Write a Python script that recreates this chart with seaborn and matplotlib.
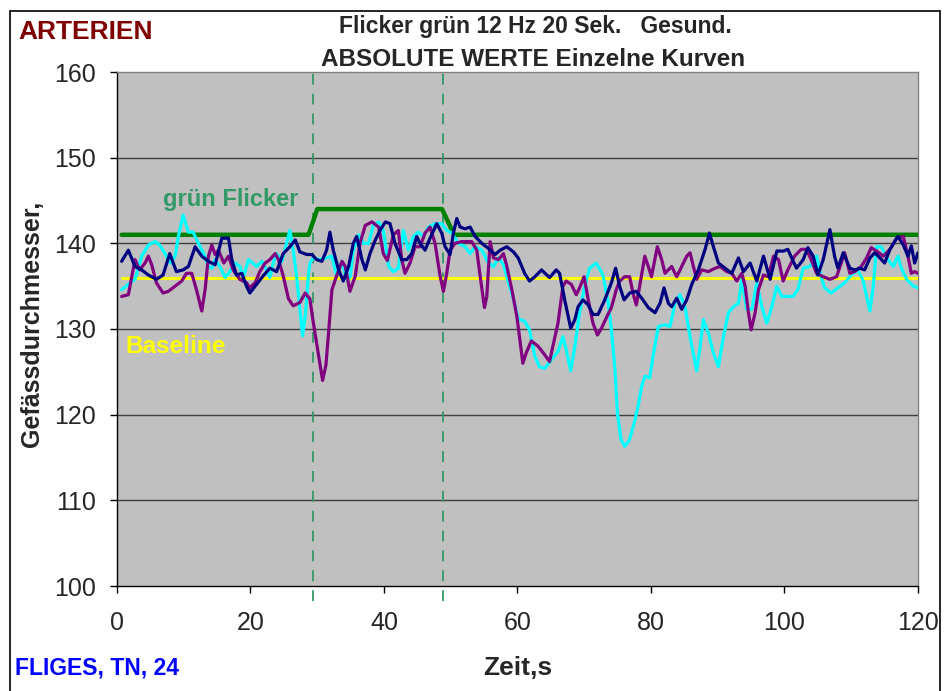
import matplotlib
matplotlib.use("Agg")
import matplotlib.pyplot as plt
import pandas as pd
import seaborn as sns
from matplotlib.lines import Line2D

# --- data ---
cyan_t = [0.7, 2.7, 3.7, 4.7, 5.7, 6.4, 7.2, 8.0, 8.7, 9.2, 9.9, 10.7, 11.4, 12.2, 13.0, 13.7, 14.2, 14.7,
          15.4, 16.2, 16.9, 17.7, 18.4, 18.9, 19.7, 20.9, 21.7, 22.4, 22.9, 23.4, 23.9, 24.7, 25.4, 25.9,
          26.4, 26.9, 27.4, 27.8, 28.2, 28.7, 28.9, 29.4, 30.4, 31.4, 32.2, 32.9, 33.7, 34.4, 34.9, 35.4,
          36.2, 36.9, 37.7, 38.4, 39.2, 39.9, 40.7, 41.4, 42.15, 42.9, 43.65, 44.4, 45.15, 45.9, 46.65,
          47.65, 48.65, 49.4, 50.15, 51.15, 52.15, 52.9, 53.65, 54.65, 55.65, 56.4, 57.15, 57.9, 58.65,
          59.4, 60.1, 61.07, 61.8, 62.6, 63.3, 64.07, 65.07, 66.07, 66.8, 67.3, 67.97, 68.6, 69.3, 70.07,
          70.8, 71.8, 72.8, 73.6, 74.07, 74.6, 74.97, 75.5, 76.07, 76.8, 77.6, 78.07, 78.6, 79.07, 79.8,
          80.3, 81.1, 82.1, 82.85, 83.6, 84.35, 85.1, 85.85, 86.85, 87.35, 87.85, 88.6, 89.35, 90.1, 90.85,
          91.6, 92.35, 93.1, 93.6, 94.35, 95.1, 95.85, 96.6, 97.35, 98.1, 98.85, 99.6, 101.3, 102.0, 102.8,
          103.8, 104.8, 105.5, 106.0, 107.0, 108.0, 109.0, 110.0, 111.0, 111.8, 112.3, 112.8, 113.3, 113.8,
          114.5, 115.5, 116.3, 117.0, 117.5, 118.3, 119.3, 120.0]
cyan_v = [134.6, 135.8, 138.5, 139.8, 140.2, 139.8, 138.8, 137.7, 138.5, 140.8, 143.3, 141.3, 141.3, 140.0,
          138.8, 137.3, 137.1, 138.1, 137.3, 136.0, 136.7, 137.7, 137.3, 136.0, 138.1, 137.3, 137.9, 136.9,
          136.0, 137.7, 138.8, 137.9, 140.0, 141.5, 139.2, 136.2, 132.3, 129.2, 131.5, 136.5, 137.7, 138.3,
          138.1, 138.3, 138.5, 136.2, 137.9, 135.8, 136.0, 139.2, 141.0, 140.0, 140.0, 142.1, 142.5, 141.5,
          137.3, 136.7, 137.1, 141.5, 139.2, 140.8, 141.3, 140.8, 141.9, 142.3, 142.3, 141.5, 141.2, 140.0,
          139.6, 138.8, 139.6, 139.2, 137.7, 137.3, 138.3, 137.5, 135.4, 133.5, 131.2, 130.9, 129.9, 126.8,
          125.6, 125.4, 126.4, 127.4, 129.1, 127.6, 125.1, 128.0, 131.9, 135.0, 137.1, 137.7, 136.3, 133.0,
          129.9, 125.3, 120.2, 117.1, 116.3, 117.1, 119.4, 121.0, 123.3, 124.5, 124.3, 126.8, 130.3, 130.5,
          130.3, 133.0, 134.0, 132.6, 129.1, 125.1, 128.0, 131.1, 129.5, 127.2, 125.6, 129.1, 131.9, 132.6,
          133.0, 135.8, 132.3, 132.3, 135.4, 132.6, 130.7, 132.6, 135.0, 133.8, 133.8, 134.6, 137.1, 137.3,
          138.5, 136.1, 134.8, 134.2, 134.8, 135.4, 136.3, 136.9, 135.6, 133.8, 132.1, 135.0, 139.6, 139.6,
          138.1, 137.3, 138.5, 137.1, 135.8, 135.0, 134.8]

purple_t = [0.7, 1.7, 2.7, 3.4, 4.2, 4.7, 5.2, 5.9, 6.9, 7.7, 8.7, 9.7, 10.4, 11.2, 11.9, 12.7, 13.2, 13.7,
            14.2, 14.7, 15.2, 16.0, 16.7, 17.4, 18.4, 19.4, 19.9, 20.7, 21.4, 22.2, 22.9, 23.7, 24.2, 24.9,
            25.7, 26.4, 27.4, 28.2, 28.9, 29.4, 30.2, 30.8, 31.3, 31.7, 32.2, 32.9, 33.7, 34.2, 34.9, 35.7,
            36.4, 37.2, 38.2, 39.2, 39.9, 40.5, 41.4, 42.15, 42.65, 43.15, 43.9, 44.65, 45.4, 46.15, 46.9,
            47.65, 48.4, 48.9, 49.4, 49.9, 50.65, 51.65, 53.15, 53.9, 54.4, 55.05, 55.4, 55.9, 56.4, 57.15,
            57.9, 58.4, 59.15, 59.9, 60.8, 61.3, 62.07, 63.07, 64.07, 64.8, 65.3, 66.07, 66.8, 67.3, 68.07,
            68.8, 69.3, 69.97, 70.6, 71.3, 71.97, 72.6, 73.3, 74.07, 74.8, 75.3, 76.07, 76.8, 77.3, 77.8,
            78.3, 79.07, 79.6, 80.07, 80.95, 81.6, 82.1, 83.1, 83.85, 84.6, 85.35, 85.85, 86.35, 86.85, 87.6,
            88.6, 89.6, 90.35, 91.35, 92.1, 92.85, 93.6, 94.1, 94.6, 95.0, 95.6, 96.1, 96.85, 97.6, 98.35,
            99.1, 99.8, 100.5, 101.5, 102.5, 103.3, 104.0, 104.8, 105.8, 106.8, 107.8, 108.5, 109.0, 109.8,
            110.5, 111.5, 112.3, 113.0, 113.8, 114.8, 115.8, 116.8, 117.8, 118.5, 119.0, 119.5, 120.0]
purple_v = [133.8, 134.0, 138.1, 136.9, 137.7, 138.5, 137.5, 135.4, 134.2, 134.4, 135.0, 135.6, 136.5,
            136.5, 134.6, 132.1, 134.6, 138.5, 139.8, 138.7, 139.2, 137.7, 138.5, 136.9, 135.8, 135.4,
            134.8, 135.4, 136.7, 137.7, 138.1, 138.8, 138.1, 136.2, 133.5, 132.7, 133.1, 134.2, 133.5,
            130.8, 126.9, 124.0, 125.8, 129.6, 134.6, 136.2, 137.9, 137.3, 134.4, 136.2, 140.0, 142.1,
            142.5, 141.9, 138.8, 138.0, 141.0, 141.5, 138.1, 136.5, 137.7, 139.6, 139.6, 141.2, 141.9,
            140.0, 136.2, 134.4, 136.5, 139.2, 140.0, 140.2, 140.2, 139.2, 136.2, 132.5, 133.8, 140.2,
            138.3, 138.1, 138.8, 137.3, 134.6, 131.5, 126.0, 127.2, 128.6, 128.0, 127.0, 126.2, 128.0,
            130.7, 135.0, 135.6, 135.2, 134.0, 134.8, 136.1, 133.4, 130.7, 129.3, 130.1, 131.3, 132.5,
            134.6, 135.6, 136.1, 136.1, 134.2, 132.8, 135.0, 138.5, 137.3, 136.1, 139.6, 138.1, 136.5,
            137.3, 136.1, 137.3, 138.5, 138.9, 137.3, 135.8, 136.9, 136.7, 137.1, 137.3, 136.7, 136.5,
            135.6, 136.5, 135.0, 131.9, 129.9, 131.9, 134.6, 136.3, 136.1, 138.5, 138.1, 135.6, 136.9,
            138.5, 139.3, 139.3, 138.1, 136.5, 136.1, 135.8, 136.1, 137.7, 138.9, 136.5, 136.7, 137.3,
            138.3, 139.5, 139.1, 138.5, 139.3, 140.6, 140.8, 138.5, 136.5, 136.7, 136.5]

navy_t = [0.7, 1.7, 2.7, 3.7, 4.7, 5.9, 6.9, 7.9, 8.9, 9.9, 10.7, 11.7, 12.7, 13.7, 14.7, 15.7, 16.7, 17.2,
          17.9, 18.7, 19.4, 19.9, 20.9, 21.9, 22.9, 23.9, 24.9, 25.9, 26.7, 27.4, 28.4, 29.2, 29.9, 30.7,
          31.4, 31.9, 32.4, 33.2, 33.9, 34.7, 35.4, 35.9, 36.7, 37.2, 37.9, 38.7, 39.4, 40.2, 40.9, 41.65,
          42.65, 43.4, 44.15, 44.9, 45.4, 46.15, 46.9, 47.9, 48.65, 49.15, 49.9, 50.4, 50.9, 51.4, 52.15,
          52.9, 53.65, 54.65, 55.65, 56.65, 57.4, 58.4, 59.4, 60.1, 61.07, 61.8, 62.6, 63.6, 64.8, 65.8,
          66.3, 67.07, 67.97, 68.6, 69.07, 69.8, 70.6, 71.3, 72.07, 73.07, 74.07, 74.7, 75.3, 75.97, 76.8,
          77.8, 78.6, 79.6, 80.6, 81.35, 81.95, 82.6, 83.1, 83.85, 84.6, 85.35, 86.1, 87.1, 88.1, 88.75,
          89.35, 90.1, 91.1, 92.1, 93.1, 93.85, 94.85, 95.85, 96.85, 97.85, 98.85, 99.85, 100.5, 101.3,
          101.8, 102.8, 103.5, 104.3, 105.0, 105.8, 106.8, 107.5, 108.0, 108.8, 109.8, 110.5, 111.3, 112.0,
          112.8, 113.5, 114.3, 115.0, 115.8, 116.5, 117.0, 117.8, 118.5, 119.0, 119.5, 120.0]
navy_v = [137.9, 139.2, 137.3, 136.9, 136.3, 135.8, 136.3, 138.8, 136.7, 136.9, 137.3, 139.6, 138.5, 137.9,
          137.5, 140.6, 140.6, 138.1, 136.3, 136.5, 135.0, 134.2, 135.2, 136.2, 137.1, 136.7, 138.8, 139.6,
          140.4, 139.0, 138.7, 138.7, 138.1, 137.9, 139.2, 141.3, 139.2, 136.9, 135.6, 137.3, 140.0, 140.8,
          138.1, 136.9, 138.8, 140.4, 141.5, 142.5, 142.3, 140.0, 138.1, 138.1, 138.8, 140.8, 140.0, 139.2,
          140.6, 142.3, 141.2, 139.6, 138.7, 141.2, 142.9, 141.9, 141.7, 141.9, 140.8, 140.0, 139.4, 138.7,
          139.2, 139.6, 139.0, 138.3, 136.5, 135.6, 136.1, 136.9, 136.0, 136.9, 136.5, 133.4, 130.1, 131.1,
          132.6, 133.4, 132.8, 131.7, 131.7, 133.4, 135.4, 137.1, 135.0, 133.4, 134.2, 134.4, 133.6, 132.5,
          131.9, 133.0, 134.8, 133.0, 132.6, 133.6, 132.3, 133.4, 135.2, 136.9, 139.3, 141.2, 139.6, 137.7,
          137.1, 136.5, 138.3, 136.7, 137.7, 135.6, 138.5, 135.8, 139.1, 139.1, 139.3, 137.9, 137.1, 138.1,
          139.5, 138.5, 136.3, 138.1, 141.6, 138.5, 137.1, 138.9, 137.1, 136.9, 137.1, 136.9, 138.3, 138.9,
          138.3, 137.7, 139.3, 140.2, 140.8, 139.8, 138.5, 139.7, 137.7, 138.9]

flicker_t = [0.7, 28.7, 30.0, 48.7, 50.5, 120.0]
flicker_v = [141, 141, 144, 144, 141, 141]
baseline_t = [0.7, 120.0]
baseline_v = [136, 136]
stim_marks = [29.4, 48.8]

x_ticks = [0, 20, 40, 60, 80, 100, 120]
y_ticks = [100, 110, 120, 130, 140, 150, 160]

# --- figure ---
sns.set_style("white")
plt.rcParams["font.family"] = ["Liberation Sans", "DejaVu Sans"]

W, H = 945, 691
fig = plt.figure(figsize=(W / 100, H / 100), dpi=100)
ax = fig.add_axes([117 / W, 1 - 586 / H, (918 - 117) / W, (586 - 72) / H])
ax.set_facecolor("#C0C0C0")

for y in y_ticks[1:-1]:
    ax.axhline(y, color="#404040", lw=1.0, zorder=1)

for t in stim_marks:
    ax.axvline(t, ymin=-0.03, ymax=1, color="#339966", lw=1.3, ls=(0, (6, 5)),
               clip_on=False, zorder=2)

sns.lineplot(x=baseline_t, y=baseline_v, color="#FFFF00", lw=2.2, ax=ax, zorder=3)
sns.lineplot(x=flicker_t, y=flicker_v, color="#008000", lw=3.2, ax=ax, zorder=3,
             sort=False, estimator=None)
for tt, vv, col in [(cyan_t, cyan_v, "#00FFFF"), (purple_t, purple_v, "#800080"),
                    (navy_t, navy_v, "#000080")]:
    sns.lineplot(x=tt, y=vv, color=col, lw=2.3, ax=ax, zorder=4, sort=False, estimator=None)

ax.set_xlim(0, 120)
ax.set_ylim(100, 160)
ax.set_xticks(x_ticks)
ax.set_yticks(y_ticks)
ax.tick_params(axis="both", direction="out", length=5, width=1, color="black",
               labelsize=18, bottom=True, left=True)
ax.tick_params(axis="x", pad=13)
ax.tick_params(axis="y", pad=10)
ax.set_xlabel("")
ax.set_ylabel("")
for s in ["left", "bottom"]:
    ax.spines[s].set_color("black")
    ax.spines[s].set_linewidth(1)
for s in ["top", "right"]:
    ax.spines[s].set_color("#808080")
    ax.spines[s].set_linewidth(1)

ax.text(6.9, 145.1, "grün Flicker", color="#339966", fontsize=17, fontweight="bold",
        ha="left", va="center", zorder=5)
ax.text(1.2, 127.9, "Baseline", color="#FFFF00", fontsize=17.5, fontweight="bold",
        ha="left", va="center", zorder=5)

# texts around the plot
fig.text(18 / W, 1 - 32 / H, "ARTERIEN", color="#800000", fontsize=19, fontweight="bold",
         ha="left", va="center")
fig.text(535 / W, 1 - 26 / H, "Flicker grün 12 Hz 20 Sek.   Gesund.", fontsize=16.5,
         fontweight="bold", ha="center", va="center")
fig.text(533 / W, 1 - 60 / H, "ABSOLUTE WERTE Einzelne Kurven", fontsize=17.5,
         fontweight="bold", ha="center", va="center")
fig.text(32 / W, 1 - 324 / H, "Gefässdurchmesser,", fontsize=18, fontweight="bold",
         rotation=90, ha="center", va="center")
fig.text(518 / W, 1 - 668 / H, "Zeit,s", fontsize=19, fontweight="bold",
         ha="center", va="center")
fig.text(15 / W, 1 - 668 / H, "FLIGES, TN, 24", color="#0000FF", fontsize=16.5,
         fontweight="bold", ha="left", va="center")

# outer chart frame
frame = dict(color="black", lw=1.2, transform=fig.transFigure)
fig.add_artist(Line2D([10 / W, 940 / W], [1 - 11 / H, 1 - 11 / H], **frame))
fig.add_artist(Line2D([10 / W, 10 / W], [0, 1 - 11 / H], **frame))
fig.add_artist(Line2D([940 / W, 940 / W], [0, 1 - 11 / H], **frame))

fig.savefig("out.png", dpi=100)
